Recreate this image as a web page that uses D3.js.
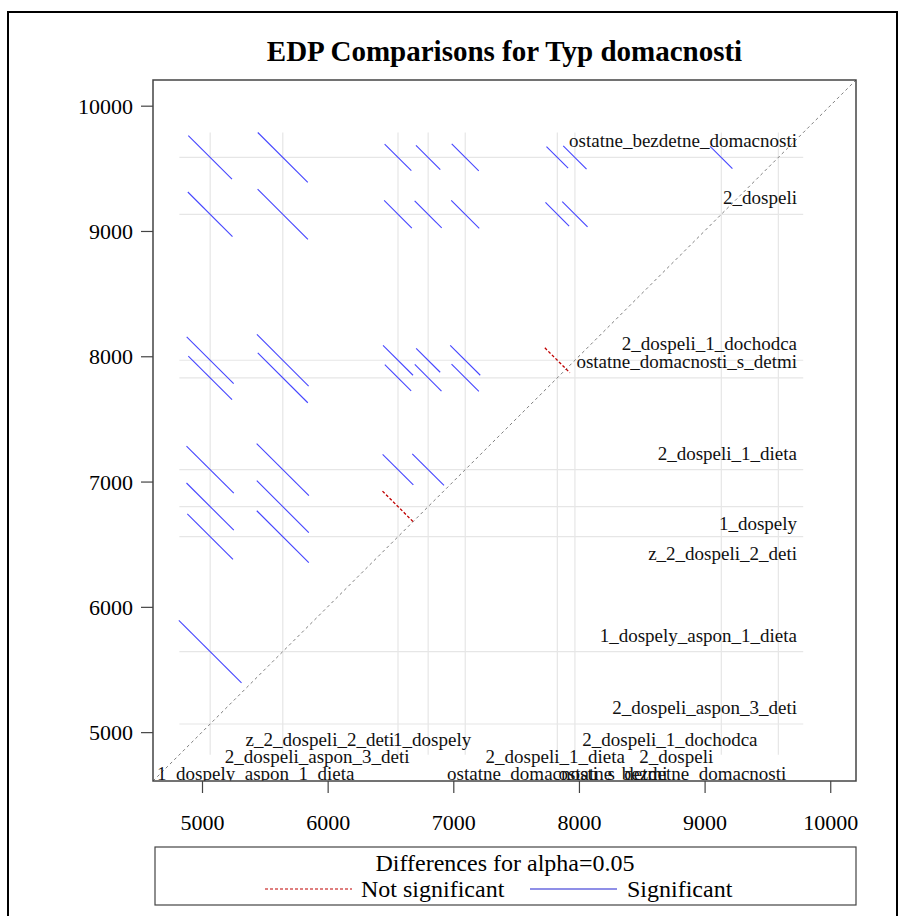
<!DOCTYPE html>
<html>
<head>
<meta charset="utf-8">
<script src="https://cdn.jsdelivr.net/npm/d3@7"></script>
<style>
  html, body { margin: 0; padding: 0; background: #fff; }
  svg { display: block; font-family: "Liberation Serif", "Times New Roman", serif; }
</style>
</head>
<body>
<svg id="chart" width="899" height="916"></svg>
<script>
// Household types and their LS-means (EDP)
const levels = [
  "ostatne_bezdetne_domacnosti",
  "2_dospeli",
  "2_dospeli_1_dochodca",
  "ostatne_domacnosti_s_detmi",
  "2_dospeli_1_dieta",
  "1_dospely",
  "z_2_dospeli_2_deti",
  "1_dospely_aspon_1_dieta",
  "2_dospeli_aspon_3_deti"
];
const lsMeans = [9587, 9133, 7968, 7828, 7095, 6800, 6560, 5643, 5065];

// Pairwise differences (higher level minus lower level) with 95% confidence limits
const pairHigh  = [0,0,0,0,0,0,0,0, 1,1,1,1,1,1,1, 2,2,2,2,2,2, 3,3,3,3,3, 4,4,4,4, 5,5,5, 6,6, 7];
const pairLow   = [8,7,6,5,4,3,2,1, 8,7,6,5,4,3,2, 8,7,6,5,4,3, 8,7,6,5,4, 8,7,6,5, 8,7,6, 8,7, 8];
const diffLower = [4175,3546,2815,2594,2277,1587,1434,277,
                   3713,3090,2353,2118,1815,1117,964,
                   2529,1914,1169,977,634,-59,
                   2415,1787,1059,816,516,
                   1654,1036,291,43,
                   1359,743,-7,
                   1132,503,
                   79];
const diffUpper = [4870,4342,3240,2981,2707,1932,1805,632,
                   4424,3891,2794,2548,2261,1494,1367,
                   3277,2737,1647,1359,1112,339,
                   3111,2583,1478,1241,951,
                   2407,1868,780,548,
                   2112,1571,487,
                   1859,1331,
                   1077];

const axisTicks = [5000, 6000, 7000, 8000, 9000, 10000];
const axisDomain = [4610, 10205];
const refExtent = [4820, 9785];

// Label placement for the reference lines
const rightLabelBelow = [false,false,false,false,false,true,true,false,false];
const bottomLabelRow  = [0,1,2,0,1,2,2,0,1];
const bottomLabelShift = [-106,-45,95,0,90,4,-78,-27,107];

const svg = d3.select("#chart");
const frame = {left: 153, top: 80, right: 856, bottom: 781};

const x = d3.scaleLinear().domain(axisDomain).range([frame.left, frame.right]);
const y = d3.scaleLinear().domain(axisDomain).range([frame.bottom, frame.top]);

// outer border
svg.append("rect")
  .attr("x", 8).attr("y", 12).attr("width", 889).attr("height", 940)
  .attr("fill", "none").attr("stroke", "#000").attr("stroke-width", 2);

// title
svg.append("text")
  .attr("x", (frame.left + frame.right) / 2).attr("y", 61)
  .attr("text-anchor", "middle")
  .attr("font-size", 29).attr("font-weight", "bold")
  .text("EDP Comparisons for Typ domacnosti");

svg.append("clipPath").attr("id", "plotClip")
  .append("rect")
  .attr("x", frame.left).attr("y", frame.top)
  .attr("width", frame.right - frame.left).attr("height", frame.bottom - frame.top);

const plot = svg.append("g").attr("clip-path", "url(#plotClip)");

// reference lines at each LS-mean
plot.append("g").selectAll("line").data(lsMeans).join("line")
  .attr("x1", x(refExtent[0])).attr("x2", x(refExtent[1]))
  .attr("y1", d => y(d)).attr("y2", d => y(d))
  .attr("stroke", "#e6e6e6").attr("stroke-width", 1.2);
plot.append("g").selectAll("line").data(lsMeans).join("line")
  .attr("y1", y(refExtent[0])).attr("y2", y(refExtent[1]))
  .attr("x1", d => x(d)).attr("x2", d => x(d))
  .attr("stroke", "#e6e6e6").attr("stroke-width", 1.2);

// diagonal
plot.append("line")
  .attr("x1", x(axisDomain[0])).attr("y1", y(axisDomain[0]))
  .attr("x2", x(axisDomain[1])).attr("y2", y(axisDomain[1]))
  .attr("stroke", "#808080").attr("stroke-width", 1)
  .attr("stroke-dasharray", "3,3");

// labels for the horizontal reference lines (right side)
plot.append("g").selectAll("text").data(levels).join("text")
  .attr("x", 797)
  .attr("y", (d, i) => y(lsMeans[i]) + (rightLabelBelow[i] ? 23 : -10))
  .attr("text-anchor", "end").attr("font-size", 19).attr("fill", "#111")
  .text(d => d);

// labels for the vertical reference lines (bottom)
plot.append("g").selectAll("text").data(levels).join("text")
  .attr("x", (d, i) => x(lsMeans[i]) + bottomLabelShift[i])
  .attr("y", (d, i) => frame.bottom - 1 - bottomLabelRow[i] * 17)
  .attr("text-anchor", "middle").attr("font-size", 19).attr("fill", "#111")
  .text(d => d);

// difference segments
const pairs = pairHigh.map((h, k) => ({
  hi: lsMeans[h], lo: lsMeans[pairLow[k]], L: diffLower[k], U: diffUpper[k]
}));
const notSig = d => d.L <= 0 && d.U >= 0;
plot.append("g").selectAll("line").data(pairs).join("line")
  .attr("x1", d => x((d.hi + d.lo - d.U) / 2)).attr("y1", d => y((d.hi + d.lo + d.U) / 2))
  .attr("x2", d => x((d.hi + d.lo - d.L) / 2)).attr("y2", d => y((d.hi + d.lo + d.L) / 2))
  .attr("stroke", d => notSig(d) ? "#c00000" : "#4646ff")
  .attr("stroke-width", d => notSig(d) ? 1.3 : 1.1)
  .attr("stroke-dasharray", d => notSig(d) ? "3,2" : null);

// frame
svg.append("rect")
  .attr("x", frame.left).attr("y", frame.top)
  .attr("width", frame.right - frame.left).attr("height", frame.bottom - frame.top)
  .attr("fill", "none").attr("stroke", "#444").attr("stroke-width", 1.5);

// axes
const xAxis = svg.append("g").attr("transform", `translate(0,${frame.bottom})`)
  .call(d3.axisBottom(x).tickValues(axisTicks).tickSize(12).tickFormat(d3.format("d")));
const yAxis = svg.append("g").attr("transform", `translate(${frame.left},0)`)
  .call(d3.axisLeft(y).tickValues(axisTicks).tickSize(12).tickFormat(d3.format("d")));
[xAxis, yAxis].forEach(a => {
  a.select(".domain").remove();
  a.selectAll(".tick line").attr("stroke", "#444").attr("stroke-width", 1.2);
  a.selectAll(".tick text").attr("font-family", "Liberation Serif, serif")
    .attr("font-size", 22).attr("fill", "#000");
});
xAxis.selectAll(".tick text").attr("y", 49).attr("dy", null);
yAxis.selectAll(".tick text").attr("x", -20).attr("dy", "0.35em");

// legend
const lg = svg.append("g");
lg.append("rect").attr("x", 155).attr("y", 847).attr("width", 701).attr("height", 58)
  .attr("fill", "none").attr("stroke", "#444").attr("stroke-width", 1.2);
lg.append("text").attr("x", 505).attr("y", 871).attr("text-anchor", "middle")
  .attr("font-size", 24).text("Differences for alpha=0.05");
lg.append("line").attr("x1", 265).attr("x2", 352).attr("y1", 889).attr("y2", 889)
  .attr("stroke", "#c00000").attr("stroke-width", 1.2).attr("stroke-dasharray", "3,2");
lg.append("text").attr("x", 361).attr("y", 897).attr("font-size", 24).text("Not significant");
lg.append("line").attr("x1", 530).attr("x2", 617).attr("y1", 889).attr("y2", 889)
  .attr("stroke", "#2020d0").attr("stroke-width", 1.2);
lg.append("text").attr("x", 627).attr("y", 897).attr("font-size", 24).text("Significant");
</script>
</body>
</html>
